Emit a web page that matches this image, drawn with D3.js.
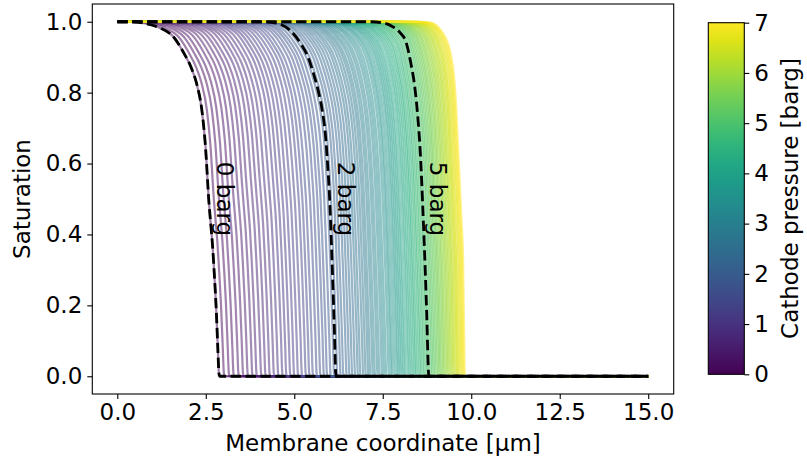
<!DOCTYPE html>
<html>
<head>
<meta charset="utf-8">
<script src="https://cdn.jsdelivr.net/npm/d3@7"></script>
<style>
  body { margin: 0; background: #fff; }
  svg { display: block; }
  text { font-family: "DejaVu Sans", sans-serif; fill: #000; }
</style>
</head>
<body>
<svg id="chart" width="807" height="467"></svg>
<script>
// ---- data ----------------------------------------------------------------
// Cathode pressure sweep: one saturation profile every 0.07 barg from 0 to 7 barg
const pressureStep = 0.07;
// Position of the drying front (saturation reaching 0) for each profile [µm]
const frontX = [
  2.89, 3.03, 3.17, 3.30, 3.44, 3.57, 3.70, 3.83, 3.95, 4.08,
  4.20, 4.32, 4.44, 4.56, 4.68, 4.79, 4.90, 5.01, 5.12, 5.23,
  5.34, 5.44, 5.54, 5.65, 5.75, 5.85, 5.94, 6.04, 6.14, 6.23,
  6.32, 6.40, 6.49, 6.57, 6.65, 6.73, 6.81, 6.88, 6.96, 7.03,
  7.10, 7.16, 7.23, 7.29, 7.36, 7.42, 7.49, 7.55, 7.61, 7.68,
  7.74, 7.79, 7.85, 7.91, 7.96, 8.01, 8.06, 8.11, 8.16, 8.22,
  8.27, 8.32, 8.37, 8.42, 8.46, 8.51, 8.56, 8.60, 8.65, 8.69,
  8.74, 8.78, 8.82, 8.87, 8.91, 8.95, 8.99, 9.03, 9.07, 9.11,
  9.14, 9.18, 9.22, 9.25, 9.29, 9.33, 9.36, 9.40, 9.43, 9.47,
  9.50, 9.53, 9.57, 9.60, 9.63, 9.66, 9.70, 9.73, 9.76, 9.79,
  9.82
];

// Saturation profile shape: distance behind the front [µm] and saturation there
const profileD = [0, 0.02, 0.05, 0.1, 0.15, 0.2, 0.25, 0.3, 0.4, 0.5, 0.65, 0.8, 1.0, 1.3, 1.7, 2.1, 2.5];
const refPressures = [0, 2, 5, 7];
const satAt0 = [0, 0.01, 0.08, 0.20, 0.29, 0.37, 0.43, 0.49, 0.65, 0.75, 0.826, 0.87, 0.91, 0.957, 0.983, 0.995, 1.0];
const satAt2 = [0, 0.01, 0.11, 0.26, 0.40, 0.52, 0.60, 0.67, 0.75, 0.80, 0.855, 0.90, 0.937, 0.975, 0.996, 1.0, 1.0];
const satAt5 = [0, 0.04, 0.15, 0.30, 0.43, 0.55, 0.65, 0.72, 0.82, 0.88, 0.945, 0.968, 0.985, 0.997, 1.0, 1.0, 1.0];
const satAt7 = [0, 0.12, 0.33, 0.45, 0.56, 0.66, 0.77, 0.84, 0.91, 0.945, 0.972, 0.99, 0.998, 1.0, 1.0, 1.0, 1.0];
const refSat = [satAt0, satAt2, satAt5, satAt7];

// Highlighted pressures (dashed)
const dashedFronts = [2.89, 6.19, 8.80];
const dashedProfiles = [satAt0, satAt2, satAt5];
const dashedLabels = ["0 barg", "2 barg", "5 barg"];

// Axes
const xTicks = [0, 2.5, 5, 7.5, 10, 12.5, 15];
const yTicks = [0, 0.2, 0.4, 0.6, 0.8, 1.0];
const cbarTicks = [0, 1, 2, 3, 4, 5, 6, 7];
const xEnd = 15;
const pMax = 7;

// ---- layout --------------------------------------------------------------
const FS = 23;
const plot = { left: 92.3, right: 673.7, top: 4, bottom: 394 };
const cbar = { left: 708.3, right: 744.3, top: 22.7, bottom: 374.3 };

const svg = d3.select("#chart");
const x = d3.scaleLinear().domain([-0.706, 15.72]).range([plot.left, plot.right]);
const y = d3.scaleLinear().domain([-0.05, 1.05]).range([plot.bottom, plot.top]);
const color = p => d3.interpolateViridis(p / pMax);

// saturation shape for an arbitrary pressure, between the neighbouring reference shapes
function shapeFor(p) {
  for (let j = 0; j < refPressures.length - 1; j++) {
    const r0 = refPressures[j], r1 = refPressures[j + 1];
    if (p <= r1 + 1e-9) {
      const w = (p - r0) / (r1 - r0);
      return profileD.map((d, k) => (1 - w) * refSat[j][k] + w * refSat[j + 1][k]);
    }
  }
  return satAt7;
}

function profilePoints(front, sats) {
  const pts = [[0, 1]];
  for (let k = profileD.length - 1; k >= 0; k--) {
    const xx = front - profileD[k];
    if (xx > 0) pts.push([xx, sats[k]]);
  }
  pts.push([xEnd, 0]);
  return pts;
}

const line = d3.line().x(d => x(d[0])).y(d => y(d[1])).curve(d3.curveMonotoneX);

// ---- profiles ------------------------------------------------------------
const gLines = svg.append("g");
frontX.forEach((f, i) => {
  const p = i * pressureStep;
  gLines.append("path")
    .attr("d", line(profilePoints(f, shapeFor(p))))
    .attr("fill", "none")
    .attr("stroke", color(p))
    .attr("stroke-opacity", 0.5)
    .attr("stroke-width", 2.2);
});

const gDash = svg.append("g");
dashedFronts.forEach((f, i) => {
  gDash.append("path")
    .attr("d", line(profilePoints(f, dashedProfiles[i])))
    .attr("fill", "none")
    .attr("stroke", "#000")
    .attr("stroke-width", 2.8)
    .attr("stroke-dasharray", "10.4,4.5");
  // label beside the curve, at mid saturation
  const sats = dashedProfiles[i];
  let k = sats.findIndex(s => s >= 0.5);
  const d0 = profileD[k - 1], d1 = profileD[k];
  const dMid = d0 + (0.5 - sats[k - 1]) / (sats[k] - sats[k - 1]) * (d1 - d0);
  const lx = x(f - dMid) + 16, ly = y(0.5);
  gDash.append("text")
    .attr("transform", `translate(${lx},${ly}) rotate(90)`)
    .attr("text-anchor", "middle")
    .attr("dominant-baseline", "central")
    .style("font-size", FS + "px")
    .text(dashedLabels[i]);
});

// ---- axes ----------------------------------------------------------------
const fmt = d3.format(".1f");
const gx = svg.append("g").attr("transform", `translate(0,${plot.bottom})`)
  .call(d3.axisBottom(x).tickValues(xTicks).tickFormat(fmt).tickSize(5).tickPadding(5));
const gy = svg.append("g").attr("transform", `translate(${plot.left},0)`)
  .call(d3.axisLeft(y).tickValues(yTicks).tickFormat(fmt).tickSize(5).tickPadding(5));
[gx, gy].forEach(g => {
  g.select(".domain").remove();
  g.selectAll(".tick line").attr("stroke", "#000").attr("stroke-width", 1.1);
  g.selectAll(".tick text").style("font-size", FS + "px").attr("fill", "#000");
});

svg.append("rect")
  .attr("x", plot.left).attr("y", plot.top)
  .attr("width", plot.right - plot.left).attr("height", plot.bottom - plot.top)
  .attr("fill", "none").attr("stroke", "#000").attr("stroke-width", 1.1);

svg.append("text")
  .attr("x", (plot.left + plot.right) / 2).attr("y", 451)
  .attr("text-anchor", "middle")
  .style("font-size", FS + "px")
  .text("Membrane coordinate [µm]");

svg.append("text")
  .attr("transform", `translate(22,${(plot.top + plot.bottom) / 2}) rotate(-90)`)
  .attr("text-anchor", "middle")
  .attr("dominant-baseline", "central")
  .style("font-size", FS + "px")
  .text("Saturation");

// ---- colour bar ----------------------------------------------------------
const grad = svg.append("defs").append("linearGradient")
  .attr("id", "viridis").attr("x1", 0).attr("y1", 1).attr("x2", 0).attr("y2", 0);
d3.range(0, 1.0001, 0.05).forEach(t => {
  grad.append("stop").attr("offset", t).attr("stop-color", d3.interpolateViridis(t));
});
svg.append("rect")
  .attr("x", cbar.left).attr("y", cbar.top)
  .attr("width", cbar.right - cbar.left).attr("height", cbar.bottom - cbar.top)
  .attr("fill", "url(#viridis)")
  .attr("stroke", "#000").attr("stroke-width", 1.1);

const cy = d3.scaleLinear().domain([0, pMax]).range([cbar.bottom, cbar.top]);
const gc = svg.append("g").attr("transform", `translate(${cbar.right},0)`)
  .call(d3.axisRight(cy).tickValues(cbarTicks).tickFormat(d3.format("d")).tickSize(5).tickPadding(5));
gc.select(".domain").remove();
gc.selectAll(".tick line").attr("stroke", "#000").attr("stroke-width", 1.1);
gc.selectAll(".tick text").style("font-size", FS + "px").attr("fill", "#000");

svg.append("text")
  .attr("transform", `translate(790,${(cbar.top + cbar.bottom) / 2}) rotate(-90)`)
  .attr("text-anchor", "middle")
  .attr("dominant-baseline", "central")
  .style("font-size", FS + "px")
  .text("Cathode pressure [barg]");
</script>
</body>
</html>
